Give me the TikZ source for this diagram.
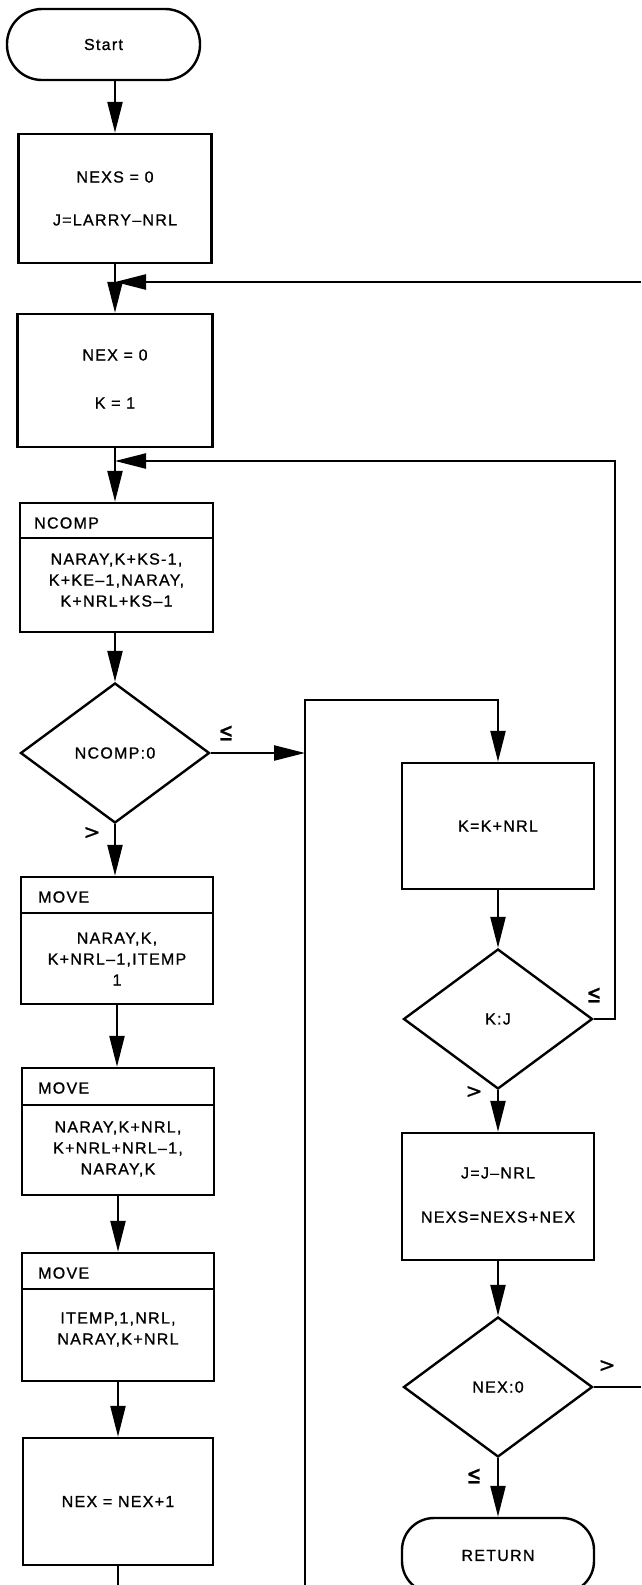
\documentclass[tikz,border=0pt]{standalone}
\usepackage{fontspec}
\setmainfont[LetterSpace=8,FakeBold=1.0]{Liberation Sans}
\newfontfamily\symfont[FakeBold=1.0]{DejaVu Sans}
\usetikzlibrary{arrows.meta,shapes.geometric}
\begin{document}
\begin{tikzpicture}[x=1pt,y=-1pt,
  line width=2.4pt,
  every node/.style={font=\fontsize{16}{21}\selectfont, inner sep=0pt, align=center},
  box/.style n args={2}{draw, rectangle, minimum width=#1, minimum height=#2},
  pill/.style n args={3}{draw, rectangle, rounded corners=#3, minimum width=#1, minimum height=#2},
  dia/.style={draw, diamond, minimum width=189pt, minimum height=140pt},
  lesym/.style={font=\symfont\fontsize{25}{25}\selectfont, xscale=0.7},
  gtsym/.style={font=\symfont\fontsize{20}{20}\selectfont},
  arr/.style={-{Triangle[length=31pt,width=15pt]}}]
\useasboundingbox (0,0) rectangle (641,1585);
\clip (0,0) rectangle (641,1585);

% left column
\node[pill={193pt}{71pt}{35pt}] (start) at (103.5,44.5) {Start};
\node[box={193pt}{129pt}] (box1) at (115,198.5) {};
\node (box1a) at (115,177) {NEXS = 0};
\node (box1b) at (115,220) {J=LARRY–NRL};
\node[box={195pt}{133pt}] (box2) at (115,380.5) {};
\node (box2a) at (115,355) {NEX = 0};
\node (box2b) at (115,403) {K = 1};

\node[box={193pt}{129pt}] (ncomp) at (116.5,567.5) {};
\coordinate (dv0) at (0,538);
\draw (ncomp.west |- dv0) -- (ncomp.east |- dv0);
\node[anchor=west] (ncomph) at (33,523) {NCOMP};
\node (ncompb) at (116.5,580) {NARAY,K+KS-1,\\K+KE–1,NARAY,\\K+NRL+KS–1};

\node[dia] (d1) at (115,753) {NCOMP:0};

\node[box={192pt}{127pt}] (move1) at (117,940.5) {};
\coordinate (dv1) at (0,913);
\draw (move1.west |- dv1) -- (move1.east |- dv1);
\node[anchor=west] (move1h) at (37,897) {MOVE};
\node (move1b) at (117,959) {NARAY,K,\\K+NRL–1,ITEMP\\1};

\node[box={192pt}{127pt}] (move2) at (118,1131.5) {};
\coordinate (dv2) at (0,1105);
\draw (move2.west |- dv2) -- (move2.east |- dv2);
\node[anchor=west] (move2h) at (37,1088) {MOVE};
\node (move2b) at (118,1149) {NARAY,K+NRL,\\K+NRL+NRL–1,\\NARAY,K};

\node[box={192pt}{128pt}] (move3) at (118,1317) {};
\coordinate (dv3) at (0,1289);
\draw (move3.west |- dv3) -- (move3.east |- dv3);
\node[anchor=west] (move3h) at (37,1273) {MOVE};
\node (move3b) at (118,1329.5) {ITEMP,1,NRL,\\NARAY,K+NRL};

\node[box={190pt}{127pt}] (nexbox) at (118,1501.5) {NEX = NEX+1};

% right column
\node[box={192pt}{126pt}] (kbox) at (498,826) {K=K+NRL};
\node[dia] (d2) at (498,1019) {K:J};
\node[box={192pt}{127pt}] (jbox) at (498,1196.5) {};
\node (jboxa) at (498,1173) {J=J–NRL};
\node (jboxb) at (498,1217) {NEXS=NEXS+NEX};
\node[dia] (d3) at (498,1387) {NEX:0};
\node[pill={192pt}{75pt}{32pt}] (ret) at (498,1555.5) {RETURN};

% labels
\node[lesym] (le1) at (226,733) {≤};
\node[gtsym] (gt1) at (92,833) {>};
\node[lesym] (le2) at (594,995) {≤};
\node[gtsym] (gt2) at (474,1092) {>};
\node[gtsym] (gt3) at (607,1366) {>};
\node[lesym] (le3) at (474,1476) {≤};

% coordinates for connectors
\coordinate (m1) at (115,282);
\coordinate (r1) at (641,282);
\coordinate (m2) at (115,461);
\coordinate (c2) at (615,461);
\coordinate (j1) at (305,753);
\coordinate (jt) at (305,700);
\coordinate (jb) at (305,1585);
\coordinate (r3) at (641,1387);
\coordinate (nb) at (118,1585);

% connectors
\draw[arr] (start.south -| box1.north) -- (box1.north);
\draw[arr] (box1.south) -- (box2.north);
\draw[arr] (r1) -- (m1);
\draw[arr] (box2.south) -- (ncomp.north -| box2.south);
\draw[arr] (d2.east) -| (c2) -- (m2);
\draw[arr] (ncomp.south -| d1.north) -- (d1.north);
\draw[arr] (d1.east) -- (j1);
\draw[arr] (jb) -- (jt) -| (kbox.north);
\draw[arr] (d1.south) -- (d1.south |- move1.north);
\draw[arr] (move1.south) -- (move1.south |- move2.north);
\draw[arr] (move2.south) -- (move2.south |- move3.north);
\draw[arr] (move3.south) -- (nexbox.north);
\draw (nexbox.south) -- (nb);
\draw[arr] (kbox.south) -- (d2.north);
\draw[arr] (d2.south) -- (jbox.north);
\draw[arr] (jbox.south) -- (d3.north);
\draw (d3.east) -- (r3);
\draw[arr] (d3.south) -- (ret.north);
\end{tikzpicture}
\end{document}
